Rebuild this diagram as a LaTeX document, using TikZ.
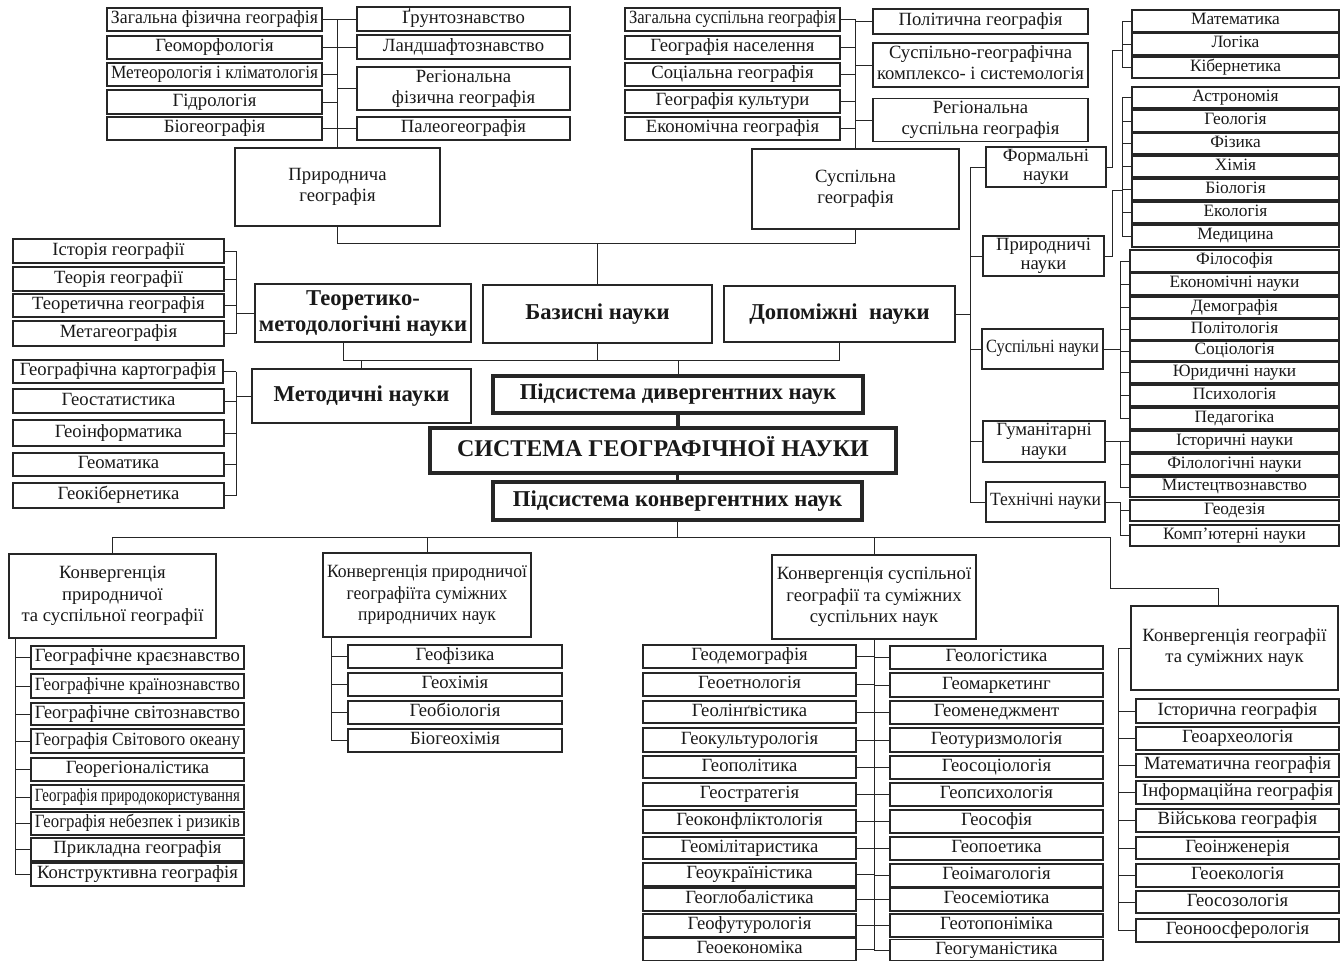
\documentclass[tikz,border=0pt]{standalone}
\usepackage{fontspec}
\setmainfont{Liberation Serif}
\usepackage{graphicx}
\newsavebox\fitsave
\newlength\fitw
\renewcommand\arraystretch{1}
\newcommand\fitto[1]{\sbox\fitsave{\begin{tabular}{@{}c@{}}#1\end{tabular}}\raisebox{-0.9pt}{\ifdim\wd\fitsave>\fitw\resizebox{\fitw}{\ht\fitsave}{\usebox\fitsave}\else\usebox\fitsave\fi}}
\newcommand\bx[7]{%
  \pgfmathsetlength\fitw{(#4-#2-8)*0.75pt}%
  \node[#6,minimum width={(#4-#2)*0.75pt},minimum height={(#5-#3)*0.75pt}] (#1) at ({(#2+#4)/2},{(#3+#5)/2}) {\fitto{#7}};}
\tikzset{
 base/.style={draw=black!85, inner sep=0pt, outer sep=0pt, text=black!90},
 sm/.style={base, line width=0.9pt, font=\fontsize{14}{16}\selectfont},
 rt/.style={base, line width=0.9pt, font=\fontsize{13}{14}\selectfont},
 cat/.style={base, line width=0.9pt, font=\fontsize{14}{14.5}\selectfont},
 thk/.style={base, line width=2pt, font=\fontsize{14}{16}\selectfont},
 bld/.style={base, line width=2pt, font=\fontsize{17}{19.5}\selectfont\bfseries},
 sub/.style={base, line width=2.6pt, font=\fontsize{17}{19}\selectfont\bfseries},
 sys/.style={base, line width=3.5pt, font=\fontsize{18}{20}\selectfont\bfseries},
 ln/.style={line width=0.75pt, draw=black!85},
 tk/.style={line width=2.5pt, draw=black!85},
}
\begin{document}
\begin{tikzpicture}[x=0.75pt,y=-0.75pt]
\useasboundingbox (0,0) rectangle (1341,961);
% ---- top left
\bx{tl1}{107}{8}{322}{31}{sm}{Загальна фізична географія}
\bx{tl2}{107}{36}{322}{59}{sm}{Геоморфологія}
\bx{tl3}{107}{63}{322}{86}{sm}{Метеорологія і кліматологія}
\bx{tl4}{107}{90}{322}{114}{sm}{Гідрологія}
\bx{tl5}{107}{117}{322}{140}{sm}{Біогеографія}
\bx{tr1}{357}{7}{570}{31}{sm}{Ґрунтознавство}
\bx{tr2}{357}{35}{570}{59}{sm}{Ландшафтознавство}
\bx{tr3}{357}{67}{570}{110}{sm}{Регіональна\\фізична географія}
\bx{tr4}{357}{117}{570}{140}{sm}{Палеогеографія}
\bx{pg}{235}{148}{440}{226}{thk}{Природнича\\географія}
% ---- top middle
\bx{sl1}{625}{8}{840}{31}{sm}{Загальна суспільна географія}
\bx{sl2}{625}{36}{840}{59}{sm}{Географія населення}
\bx{sl3}{625}{63}{840}{86}{sm}{Соціальна географія}
\bx{sl4}{625}{90}{840}{113}{sm}{Географія культури}
\bx{sl5}{625}{117}{840}{140}{sm}{Економічна географія}
\bx{sr1}{873}{9}{1088}{34}{sm}{Політична географія}
\bx{sr2}{873}{43}{1088}{87}{sm}{Суспільно-географічна\\комплексо- і системологія}
\bx{sr3}{873}{99}{1088}{141}{sm}{Регіональна\\суспільна географія}
\bx{sg}{752}{149}{959}{229}{thk}{Суспільна\\географія}
% ---- middle left
\bx{th1}{13}{239}{224}{263}{sm}{Історія географії}
\bx{th2}{13}{267}{224}{291}{sm}{Теорія географії}
\bx{th3}{13}{294}{224}{317}{sm}{Теоретична географія}
\bx{th4}{13}{321}{224}{346}{sm}{Метагеографія}
\bx{tm}{255}{284}{471}{342}{bld}{Теоретико-\\методологічні науки}
\bx{mt1}{13}{360}{223}{383}{sm}{Географічна картографія}
\bx{mt2}{13}{389}{224}{413}{sm}{Геостатистика}
\bx{mt3}{13}{420}{224}{446}{sm}{Геоінформатика}
\bx{mt4}{13}{453}{224}{476}{sm}{Геоматика}
\bx{mt5}{13}{483}{224}{508}{sm}{Геокібернетика}
\bx{md}{252}{369}{471}{423}{bld}{Методичні науки}
% ---- centre
\bx{bz}{483}{285}{712}{343}{bld}{Базисні науки}
\bx{dp}{724}{286}{955}{342}{bld}{Допоміжні\ \ науки}
\bx{pd}{493}{376}{863}{413}{sub}{Підсистема дивергентних наук}
\bx{sys}{430}{428}{896}{473}{sys}{СИСТЕМА ГЕОГРАФІЧНОЇ НАУКИ}
\bx{pk}{493}{482}{862}{520}{sub}{Підсистема конвергентних наук}
% ---- right categories
\bx{fn}{986}{147}{1106}{187}{cat}{Формальні\\науки}
\bx{pn}{983}{236}{1104}{276}{cat}{Природничі\\науки}
\bx{sn}{982}{329}{1103}{369}{cat}{Суспільні науки}
\bx{hn}{983}{421}{1105}{462}{cat}{Гуманітарні\\науки}
\bx{tn}{986}{482}{1105}{522}{cat}{Технічні науки}
% ---- right leaves
\bx{f1}{1132}{10}{1339}{32}{rt}{Математика}
\bx{f2}{1132}{33}{1339}{55}{rt}{Логіка}
\bx{f3}{1132}{57}{1339}{78}{rt}{Кібернетика}
\bx{n1}{1132}{87}{1339}{108}{rt}{Астрономія}
\bx{n2}{1132}{110}{1339}{132}{rt}{Геологія}
\bx{n3}{1132}{133}{1339}{154}{rt}{Фізика}
\bx{n4}{1132}{156}{1339}{177}{rt}{Хімія}
\bx{n5}{1132}{179}{1339}{200}{rt}{Біологія}
\bx{n6}{1132}{202}{1339}{223}{rt}{Екологія}
\bx{n7}{1132}{225}{1339}{247}{rt}{Медицина}
\bx{s1}{1130}{250}{1339}{272}{rt}{Філософія}
\bx{s2}{1130}{273}{1339}{295}{rt}{Економічні науки}
\bx{s3}{1130}{297}{1339}{318}{rt}{Демографія}
\bx{s4}{1130}{319}{1339}{340}{rt}{Політологія}
\bx{s5}{1130}{341}{1339}{361}{rt}{Соціологія}
\bx{s6}{1130}{362}{1339}{383}{rt}{Юридичні науки}
\bx{s7}{1130}{385}{1339}{406}{rt}{Психологія}
\bx{s8}{1130}{408}{1339}{429}{rt}{Педагогіка}
\bx{h1}{1130}{431}{1339}{452}{rt}{Історичні науки}
\bx{h2}{1130}{454}{1339}{475}{rt}{Філологічні науки}
\bx{h3}{1130}{477}{1339}{497}{rt}{Мистецтвознавство}
\bx{t1}{1130}{500}{1339}{521}{rt}{Геодезія}
\bx{t2}{1130}{525}{1339}{546}{rt}{Комп’ютерні науки}
% ---- bottom groups
\bx{b1}{9}{554}{216}{638}{thk}{Конвергенція\\природничої\\та суспільної географії}
\bx{c1}{31}{646}{244}{669}{sm}{Географічне краєзнавство}
\bx{c2}{31}{674}{244}{698}{sm}{Географічне країнознавство}
\bx{c3}{31}{703}{244}{725}{sm}{Географічне світознавство}
\bx{c4}{31}{729}{244}{753}{sm}{Географія Світового океану}
\bx{c5}{31}{758}{244}{781}{sm}{Георегіоналістика}
\bx{c6}{31}{785}{244}{809}{sm}{Географія природокористування}
\bx{c7}{31}{812}{244}{835}{sm}{Географія небезпек і ризиків}
\bx{c8}{31}{838}{244}{861}{sm}{Прикладна географія}
\bx{c9}{31}{863}{244}{886}{sm}{Конструктивна географія}
\bx{b2}{323}{553}{531}{637}{thk}{Конвергенція природничої\\географіїта суміжних\\природничих наук}
\bx{d1}{348}{645}{562}{668}{sm}{Геофізика}
\bx{d2}{348}{673}{562}{696}{sm}{Геохімія}
\bx{d3}{348}{701}{562}{724}{sm}{Геобіологія}
\bx{d4}{348}{729}{562}{752}{sm}{Біогеохімія}
\bx{b3}{772}{555}{976}{639}{thk}{Конвергенція суспільної\\географії та суміжних\\суспільних наук}
\bx{e1}{643}{645}{856}{668}{sm}{Геодемографія}
\bx{e2}{643}{673}{856}{696}{sm}{Геоетнологія}
\bx{e3}{643}{701}{856}{723}{sm}{Геолінґвістика}
\bx{e4}{643}{728}{856}{752}{sm}{Геокультурологія}
\bx{e5}{643}{756}{856}{778}{sm}{Геополітика}
\bx{e6}{643}{783}{856}{806}{sm}{Геостратегія}
\bx{e7}{643}{810}{856}{833}{sm}{Геоконфліктологія}
\bx{e8}{643}{837}{856}{859}{sm}{Геомілітаристика}
\bx{e9}{643}{863}{856}{886}{sm}{Геоукраїністика}
\bx{e10}{643}{888}{856}{911}{sm}{Геоглобалістика}
\bx{e11}{643}{914}{856}{937}{sm}{Геофутурологія}
\bx{e12}{643}{939}{856}{960}{sm}{Геоекономіка}
\bx{g1}{890}{646}{1103}{669}{sm}{Геологістика}
\bx{g2}{890}{673}{1103}{697}{sm}{Геомаркетинг}
\bx{g3}{890}{701}{1103}{724}{sm}{Геоменеджмент}
\bx{g4}{890}{728}{1103}{752}{sm}{Геотуризмологія}
\bx{g5}{890}{756}{1103}{779}{sm}{Геосоціологія}
\bx{g6}{890}{783}{1103}{806}{sm}{Геопсихологія}
\bx{g7}{890}{810}{1103}{833}{sm}{Геософія}
\bx{g8}{890}{837}{1103}{860}{sm}{Геопоетика}
\bx{g9}{890}{864}{1103}{887}{sm}{Геоімагологія}
\bx{g10}{890}{888}{1103}{911}{sm}{Геосеміотика}
\bx{g11}{890}{914}{1103}{937}{sm}{Геотопоніміка}
\bx{g12}{890}{940}{1103}{960}{sm}{Геогуманістика}
\bx{b4}{1131}{606}{1338}{690}{thk}{Конвергенція географії\\та суміжних наук}
\bx{k1}{1136}{699}{1339}{723}{sm}{Історична географія}
\bx{k2}{1136}{727}{1339}{750}{sm}{Геоархеологія}
\bx{k3}{1136}{754}{1339}{777}{sm}{Математична географія}
\bx{k4}{1136}{781}{1339}{804}{sm}{Інформаційна географія}
\bx{k5}{1136}{809}{1339}{832}{sm}{Військова географія}
\bx{k6}{1136}{837}{1339}{859}{sm}{Геоінженерія}
\bx{k7}{1136}{864}{1339}{887}{sm}{Геоекологія}
\bx{k8}{1136}{891}{1339}{913}{sm}{Геосозологія}
\bx{k9}{1136}{919}{1339}{942}{sm}{Геоноосферологія}
% ================= connectors
% top left
\foreach \n in {tl1,tl2,tl3,tl4,tl5} \draw[ln] (\n.east) -- (\n.east -| pg.north);
\foreach \n in {tr1,tr2,tr3,tr4} \draw[ln] (\n.west) -- (\n.west -| pg.north);
\draw[ln] (tr1.west -| pg.north) -- (pg.north);
% top middle
\foreach \n in {sl1,sl2,sl3,sl4,sl5} \draw[ln] (\n.east) -- (\n.east -| sg.north);
\foreach \n in {sr1,sr2,sr3} \draw[ln] (\n.west) -- (\n.west -| sg.north);
\draw[ln] (sl1.east -| sg.north) -- (sg.north);
% upper bus
\coordinate (busT) at (0,243);
\draw[ln] (pg.south) -- (pg.south |- busT) -- (sg.south |- busT) -- (sg.south);
\draw[ln] (bz.north) -- (bz.north |- busT);
% theory and method lists
\coordinate (thT) at (236,0);
\foreach \n in {th1,th2,th3,th4,mt1,mt2,mt3,mt4,mt5} \draw[ln] (\n.east) -- (\n.east -| thT);
\draw[ln] (th1.east -| thT) -- (th4.east -| thT);
\draw[ln] (tm.west -| thT) -- (tm.west);
\draw[ln] (mt1.east -| thT) -- (mt5.east -| thT);
\draw[ln] (md.west -| thT) -- (md.west);
% middle bus
\coordinate (busM) at (343,360);
\draw[ln] (tm.south -| busM) -- (busM) -- (dp.south |- busM) -- (dp.south);
\draw[ln] (bz.south) -- (bz.south |- busM);
\draw[ln] (md.north) -- (md.north |- busM);
\draw[ln] (pd.north) -- (pd.north |- busM);
\draw[tk] (pd.south) -- (pd.south |- sys.north);
\draw[tk] (sys.south -| pk.north) -- (pk.north);
% right trunk
\coordinate (rT) at (970,0);
\draw[ln] (dp.east) -- (dp.east -| rT);
\draw[ln] (fn.west -| rT) -- (tn.west -| rT);
\foreach \n in {fn,pn,sn,hn,tn} \draw[ln] (\n.west) -- (\n.west -| rT);
% right brackets
\coordinate (fB) at (1122,0);
\coordinate (fJ) at (1112,50);
\coordinate (nJ) at (1112,190);
\coordinate (sB) at (1120,0);
\draw[ln] (fn.east) -| (fJ) -- (fJ -| fB);
\draw[ln] (f1.west -| fB) -- (f3.west -| fB);
\foreach \n in {f1,f2,f3,n1,n2,n3,n4,n5,n6,n7} \draw[ln] (\n.west) -- (\n.west -| fB);
\draw[ln] (pn.east) -| (nJ) -- (nJ -| fB);
\draw[ln] (n1.west -| fB) -- (n7.west -| fB);
\draw[ln] (sn.east) -- (sn.east -| sB);
\draw[ln] (s1.west -| sB) -- (s8.west -| sB);
\draw[ln] (hn.east) -- (hn.east -| sB);
\draw[ln] (hn.east -| sB) -- (h3.west -| sB);
\draw[ln] (tn.east) -- (tn.east -| sB) -- (t2.west -| sB);
\foreach \n in {s1,s2,s3,s4,s5,s6,s7,s8,h1,h2,h3,t1,t2} \draw[ln] (\n.west) -- (\n.west -| sB);
% lower bus
\coordinate (bB) at (0,537);
\coordinate (kJ) at (1110,537);
\coordinate (kK) at (1110,588);
\coordinate (kL) at (1218,588);
\draw[ln] (pk.south) -- (pk.south |- bB);
\draw[ln] (b1.north) -- (b1.north |- bB) -- (kJ) -- (kK) -- (kL) -- (kL |- b4.north);
\draw[ln] (b2.north) -- (b2.north |- bB);
\draw[ln] (b3.north) -- (b3.north |- bB);
% bottom lists
\coordinate (cT) at (15,0);
\draw[ln] (b1.south -| cT) -- (c9.west -| cT);
\foreach \n in {c1,c2,c3,c4,c5,c6,c7,c8,c9} \draw[ln] (\n.west) -- (\n.west -| cT);
\coordinate (dT) at (331,0);
\draw[ln] (b2.south -| dT) -- (d4.west -| dT);
\foreach \n in {d1,d2,d3,d4} \draw[ln] (\n.west) -- (\n.west -| dT);
\draw[ln] (b3.south) -- (b3.south |- e12.east);
\foreach \n in {e1,e2,e3,e4,e5,e6,e7,e8,e9,e10,e11,e12} \draw[ln] (\n.east) -- (\n.east -| b3.south);
\foreach \n in {g1,g2,g3,g4,g5,g6,g7,g8,g9,g10,g11,g12} \draw[ln] (\n.west) -- (\n.west -| b3.south);
\coordinate (kT) at (1118,0);
\draw[ln] (b4.west) -- (b4.west -| kT) -- (k9.west -| kT);
\foreach \n in {k1,k2,k3,k4,k5,k6,k7,k8,k9} \draw[ln] (\n.west) -- (\n.west -| kT);
\end{tikzpicture}
\end{document}
